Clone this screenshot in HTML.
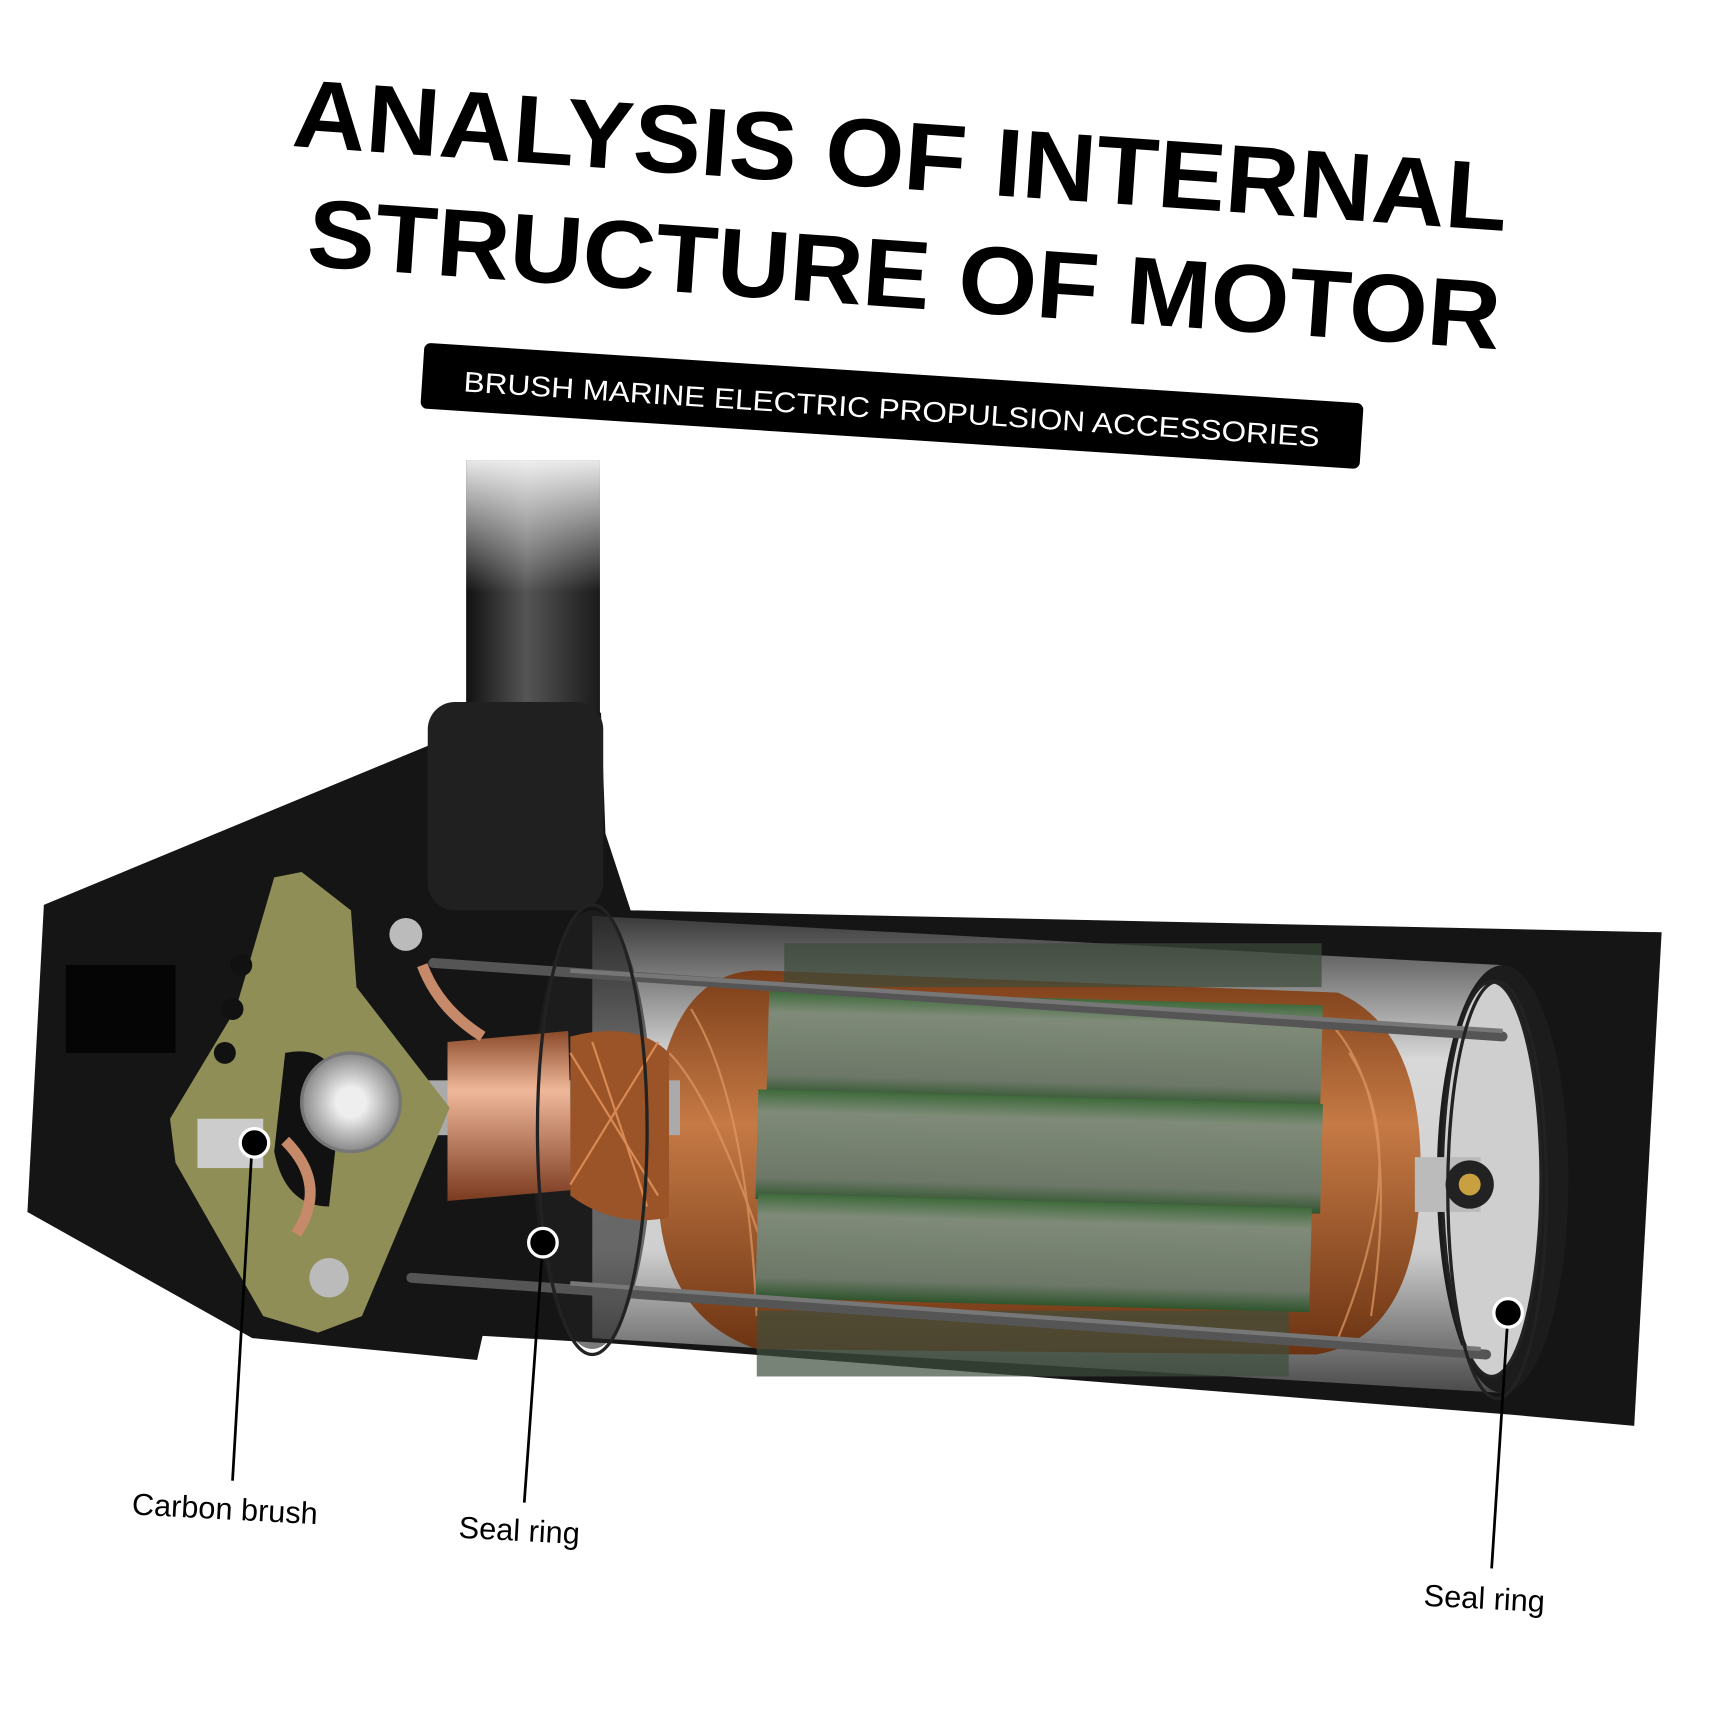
<!DOCTYPE html>
<html><head><meta charset="utf-8"><style>
html,body{margin:0;padding:0;background:#fff;width:1711px;height:1711px;overflow:hidden}
svg{display:block}
</style></head><body>
<svg width="1711" height="1711" viewBox="0 0 1560 1560" xmlns="http://www.w3.org/2000/svg">
<defs>
<linearGradient id="pole" x1="0" x2="1"><stop offset="0" stop-color="#111"/><stop offset="0.45" stop-color="#555"/><stop offset="1" stop-color="#1a1a1a"/></linearGradient>
<linearGradient id="polefade" x1="0" y1="0" x2="0" y2="1"><stop offset="0" stop-color="#fff" stop-opacity="0.9"/><stop offset="0.5" stop-color="#fff" stop-opacity="0"/></linearGradient>
<linearGradient id="inner" x1="0" y1="0" x2="0" y2="1"><stop offset="0" stop-color="#3a3a3a"/><stop offset="0.3" stop-color="#d8d8d8"/><stop offset="0.7" stop-color="#cfcfcf"/><stop offset="1" stop-color="#4a4a4a"/></linearGradient>
<linearGradient id="cu" x1="0" y1="0" x2="0" y2="1"><stop offset="0" stop-color="#7a3d18"/><stop offset="0.4" stop-color="#c67a45"/><stop offset="1" stop-color="#6b3312"/></linearGradient>
<linearGradient id="comm" x1="0" y1="0" x2="0" y2="1"><stop offset="0" stop-color="#8a4a2a"/><stop offset="0.35" stop-color="#f0b89a"/><stop offset="1" stop-color="#7a3a20"/></linearGradient>
<linearGradient id="green" x1="0" y1="0" x2="0" y2="1"><stop offset="0" stop-color="#3f6a3c"/><stop offset="0.2" stop-color="#7f8b78"/><stop offset="0.8" stop-color="#6d7868"/><stop offset="1" stop-color="#2f552d"/></linearGradient>
<radialGradient id="bear"><stop offset="0.3" stop-color="#eee"/><stop offset="1" stop-color="#888"/></radialGradient>
</defs>
<rect width="1560" height="1560" fill="#fff"/>

<!-- Title -->
<g transform="rotate(4 820 200)" font-family="Liberation Sans, sans-serif" font-weight="bold" fill="#000">
<text x="262" y="172" font-size="88" textLength="1110" lengthAdjust="spacingAndGlyphs">ANALYSIS OF INTERNAL</text>
<text x="283" y="280" font-size="88" textLength="1090" lengthAdjust="spacingAndGlyphs">STRUCTURE OF MOTOR</text>
</g>
<g transform="rotate(3.7 812 374)">
<rect x="384" y="340" width="858" height="60" rx="6" fill="#000"/>
<text x="422" y="382" font-family="Liberation Sans, sans-serif" font-size="26" fill="#fff" textLength="782" lengthAdjust="spacingAndGlyphs">BRUSH MARINE ELECTRIC PROPULSION ACCESSORIES</text>
</g>

<!-- Pole -->
<rect x="425" y="420" width="122" height="240" fill="url(#pole)"/>
<rect x="425" y="420" width="122" height="240" fill="url(#polefade)"/>

<!-- Body -->
<path d="M40 825 L390 680 L395 650 Q470 630 548 650 L552 760 L575 830 L1515 850 L1490 1300 L1380 1290 L560 1225 L440 1218 L435 1240 L230 1220 L25 1105 Z" fill="#151515"/>
<rect x="390" y="640" width="160" height="190" rx="25" fill="#202020"/>
<path d="M60 880 L160 880 L160 960 L60 960 Z" fill="#050505"/>

<!-- inner cylinder -->
<path d="M540 835 L1370 880 L1370 1270 L540 1220 Z" fill="url(#inner)"/>
<ellipse cx="1370" cy="1075" rx="60" ry="195" fill="#1c1c1c"/>
<ellipse cx="1360" cy="1075" rx="45" ry="180" fill="#cfcfcf" stroke="#222" stroke-width="3"/>
<ellipse cx="540" cy="1030" rx="55" ry="200" fill="#222" opacity="0.6"/>

<!-- armature copper -->
<path d="M600 990 Q620 880 700 885 L1220 905 Q1300 940 1295 1080 Q1290 1220 1200 1235 L690 1230 Q600 1200 600 1080 Z" fill="url(#cu)"/>
<g stroke="#e09a66" stroke-width="2" fill="none" opacity="0.7">
<path d="M610 960 Q650 1000 700 1150"/><path d="M630 920 Q680 1000 690 1200"/><path d="M1210 930 Q1280 1000 1250 1200"/><path d="M1230 960 Q1290 1050 1220 1220"/>
</g>
<rect x="700" y="910" width="505" height="95" fill="url(#green)" transform="rotate(1.5 950 955)"/>
<rect x="690" y="1000" width="515" height="100" fill="url(#green)" transform="rotate(1.5 950 1050)"/>
<rect x="690" y="1095" width="505" height="95" fill="url(#green)" transform="rotate(1.5 950 1140)"/>
<rect x="715" y="860" width="490" height="40" fill="#3c4a3a" opacity="0.7"/>
<rect x="690" y="1195" width="485" height="60" fill="#3f4e3d" opacity="0.7"/>

<!-- shaft, commutator -->
<rect x="330" y="985" width="290" height="50" fill="#aaa"/>
<rect x="1290" y="1055" width="60" height="50" fill="#bbb"/>
<circle cx="1340" cy="1080" r="22" fill="#222"/><circle cx="1340" cy="1080" r="10" fill="#c9a040"/>
<path d="M408 950 L518 940 L522 1085 L408 1095 Z" fill="url(#comm)"/>
<path d="M520 945 Q580 930 610 960 L610 1110 Q560 1120 520 1090 Z" fill="#9a5428"/>
<g stroke="#d88a55" stroke-width="2" fill="none"><path d="M520 960 L600 1090"/><path d="M520 1080 L600 950"/><path d="M540 950 L590 1100"/></g>

<!-- rods -->
<g stroke="#555" stroke-width="9" stroke-linecap="round">
<line x1="395" y1="878" x2="1370" y2="945"/>
<line x1="375" y1="1165" x2="1355" y2="1235"/>
</g>
<g stroke="#777" stroke-width="4"><line x1="520" y1="885" x2="1370" y2="940"/><line x1="520" y1="1170" x2="1350" y2="1230"/></g>

<!-- PCB -->
<path d="M250 800 L275 795 L320 830 L325 900 L410 1010 L330 1200 L290 1215 L240 1200 L160 1060 L155 1020 L215 920 Z" fill="#8e8e56"/>
<circle cx="220" cy="880" r="10" fill="#111"/><circle cx="212" cy="920" r="10" fill="#111"/><circle cx="205" cy="960" r="10" fill="#111"/>
<path d="M260 960 Q310 950 310 1010 L300 1100 Q260 1100 250 1050 Z" fill="#111"/>
<rect x="180" y="1020" width="60" height="45" fill="#ccc"/>
<circle cx="320" cy="1005" r="45" fill="url(#bear)" stroke="#777" stroke-width="3"/>
<circle cx="370" cy="852" r="15" fill="#bbb"/><circle cx="300" cy="1165" r="18" fill="#bbb"/>
<path d="M385 880 Q400 920 440 945" stroke="#c68a6a" stroke-width="10" fill="none"/>
<path d="M260 1040 Q300 1080 270 1125" stroke="#c68a6a" stroke-width="10" fill="none"/>

<!-- seal rings -->
<ellipse cx="540" cy="1030" rx="50" ry="205" fill="none" stroke="#222" stroke-width="3"/>
<ellipse cx="1365" cy="1085" rx="45" ry="190" fill="none" stroke="#222" stroke-width="3"/>

<!-- callouts -->
<g stroke="#000" stroke-width="2.5">
<line x1="230" y1="1042" x2="212" y2="1350"/>
<line x1="495" y1="1133" x2="478" y2="1370"/>
<line x1="1375" y1="1197" x2="1360" y2="1430"/>
</g>
<g fill="#000" stroke="#fff" stroke-width="3">
<circle cx="232" cy="1042" r="13"/><circle cx="495" cy="1133" r="13"/><circle cx="1375" cy="1197" r="13"/>
</g>
<g font-family="Liberation Sans, sans-serif" font-size="28" fill="#000">
<text x="120" y="1385" transform="rotate(3 200 1380)">Carbon brush</text>
<text x="418" y="1405" transform="rotate(3 475 1400)">Seal ring</text>
<text x="1298" y="1467" transform="rotate(3 1355 1460)">Seal ring</text>
</g>
</svg>
</body></html>
